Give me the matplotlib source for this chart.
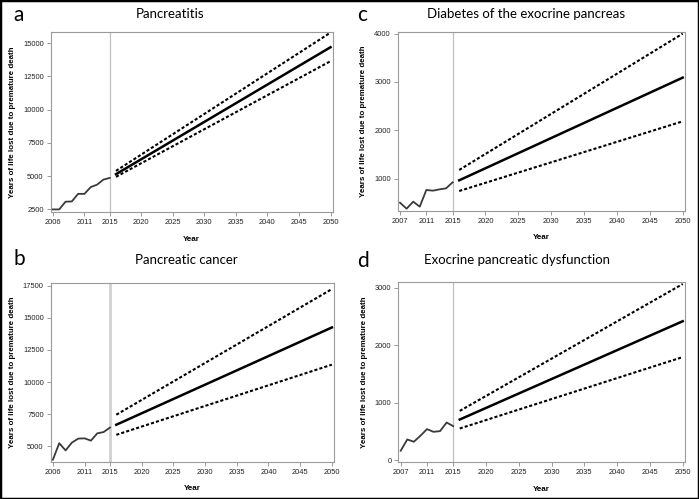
import matplotlib
matplotlib.use("Agg")
import matplotlib.pyplot as plt
from matplotlib.patches import Rectangle

# observed years
hist_years_a = [2006, 2007, 2008, 2009, 2010, 2011, 2012, 2013, 2014, 2015]
hist_years_c = [2007, 2008, 2009, 2010, 2011, 2012, 2013, 2014, 2015]
proj_years = [2016, 2050]

# a: Pancreatitis
pan_hist = [2500, 2500, 3080, 3100, 3670, 3670, 4180, 4360, 4740, 4870]
pan_mid = [5150, 14700]
pan_hi = [5400, 15800]
pan_lo = [4950, 13650]

# b: Pancreatic cancer
can_hist = [3950, 5230, 4670, 5280, 5590, 5610, 5430, 6000, 6100, 6450]
can_mid = [6670, 14250]
can_hi = [7450, 17240]
can_lo = [5885, 11350]

# c: Diabetes of the exocrine pancreas
dia_hist = [503, 379, 524, 421, 766, 752, 779, 800, 924]
dia_mid = [966, 3090]
dia_hi = [1180, 4000]
dia_lo = [745, 2186]

# d: Exocrine pancreatic dysfunction
exo_hist = [162, 358, 318, 422, 538, 491, 503, 653, 590]
exo_mid = [705, 2416]
exo_hi = [855, 3064]
exo_lo = [549, 1792]

panels = [
    # letter, title, hist years, hist, mid, hi, lo, yticks, ylim, axes rect, title pos, letter pos
    ("a", "Pancreatitis", hist_years_a, pan_hist, pan_mid, pan_hi, pan_lo,
     [2500, 5000, 7500, 10000, 12500, 15000], (2300, 15850),
     [0.0725, 0.575, 0.4035, 0.361], (170, 14), (19, 15)),
    ("c", "Diabetes of the exocrine pancreas", hist_years_c, dia_hist, dia_mid, dia_hi, dia_lo,
     [1000, 2000, 3000, 4000], (340, 4035),
     [0.569, 0.578, 0.411, 0.358], (526, 14), (362, 15)),
    ("b", "Pancreatic cancer", hist_years_a, can_hist, can_mid, can_hi, can_lo,
     [5000, 7500, 10000, 12500, 15000, 17500], (3800, 17680),
     [0.0725, 0.075, 0.4055, 0.357], (186, 260), (19, 259)),
    ("d", "Exocrine pancreatic dysfunction", hist_years_c, exo_hist, exo_mid, exo_hi, exo_lo,
     [0, 1000, 2000, 3000], (-40, 3100),
     [0.570, 0.0735, 0.410, 0.3615], (517, 260), (363, 261)),
]

W, H = 699, 499
fig = plt.figure(figsize=(W / 100, H / 100), dpi=100)
tick_font = "Liberation Sans"
grey = "#9a9a9a"

for letter, title, hy, hv, mid, hi, lo, yt, yl, rect, tpos, lpos in panels:
    ax = fig.add_axes(rect)
    ax.axvline(2015, color="#d0d0d0" if letter == "b" else "#c0c0c0",
               lw=2.0 if letter == "b" else 0.9, zorder=1)
    ax.plot(hy, hv, color="#3a3a3a", lw=1.3, zorder=3)
    ax.plot(proj_years, mid, color="black", lw=1.8, zorder=3)
    ax.plot(proj_years, hi, color="black", lw=1.5, ls=(0, (1.5, 1.0)), zorder=3)
    ax.plot(proj_years, lo, color="black", lw=1.5, ls=(0, (1.5, 1.0)), zorder=3)

    x0 = hy[0]
    xt = [x0, 2011, 2015, 2020, 2025, 2030, 2035, 2040, 2045, 2050]
    ax.set_xticks(xt)
    ax.set_xticklabels([str(v) for v in xt], fontsize=5.4, family=tick_font)
    ax.set_xlim(x0 - 0.35, 2050.35)
    ax.set_yticks(yt)
    ax.set_yticklabels([str(v) for v in yt], fontsize=5.4, family=tick_font)
    ax.set_ylim(*yl)
    for s in ax.spines.values():
        s.set_color(grey)
        s.set_linewidth(0.8)
    ax.tick_params(colors=grey, labelcolor="#222222", length=3, width=0.7, pad=2)
    ax.set_xlabel("Year", fontsize=5.8, family=tick_font, fontweight="bold", labelpad=7)
    ax.set_ylabel("Years of life lost due to premature death", fontsize=5.7,
                  family=tick_font, fontweight="bold", labelpad=5)

    fig.text(tpos[0] / W, 1 - tpos[1] / H, title, ha="center", va="center",
             fontsize=9.5, family="Lato")
    fig.text(lpos[0] / W, 1 - lpos[1] / H, letter, ha="center", va="center",
             fontsize=15, family="Lato", color="black")

fig.patches.append(Rectangle((0, 0), 1, 1, transform=fig.transFigure, fill=False,
                             edgecolor="black", lw=2.5, zorder=10))

fig.savefig("out.png", dpi=100)
